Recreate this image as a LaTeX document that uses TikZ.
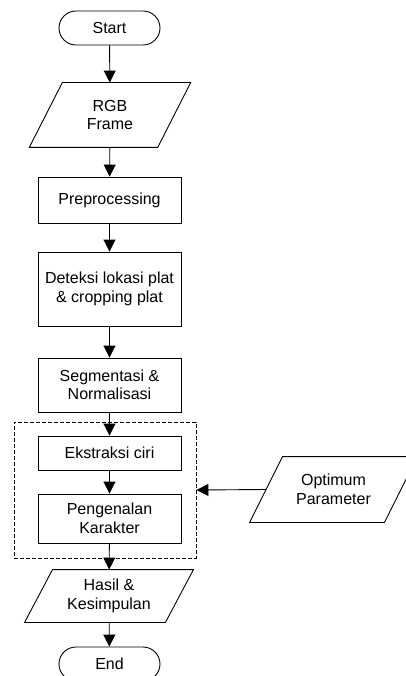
\documentclass[tikz,border=0pt]{standalone}
\usepackage{fontspec}
\setmainfont{Liberation Sans}
\usetikzlibrary{arrows.meta,calc}
\tikzset{
  base/.style={inner sep=0pt, align=center, font=\fontsize{16}{18.5}\selectfont, line width=0.9pt},
  procbox/.style={base, draw, rectangle, minimum width=143pt},
  termbox/.style={base, draw, rectangle, rounded corners=17pt, minimum width=101pt, minimum height=34pt},
  iobox/.style={base, rectangle},
  parashape/.style={line width=0.9pt},
  dashbox/.style={draw, line width=0.9pt, dash pattern=on 4pt off 2pt, inner sep=0pt, minimum width=182pt, minimum height=136pt},
  arrow/.style={line width=0.9pt, -{Triangle[length=12pt,width=12pt]}},
}
\begin{document}
\begin{tikzpicture}[x=1pt,y=-1pt]
\useasboundingbox (0,0) rectangle (406,676);
\node[termbox] (start) at (109.5,28) {Start};
\node[iobox, minimum width=127.5pt, minimum height=64pt] (rgb) at (110,115) {RGB\\Frame};
\draw[parashape] ($(rgb.south west)+(-16.5,0)$) -- ($(rgb.north west)+(16.5,0)$) -- ($(rgb.north east)+(16.5,0)$) -- ($(rgb.south east)+(-16.5,0)$) -- cycle;
\node[procbox, minimum height=46pt] (pre) at (109.5,200) {Preprocessing};
\node[procbox, minimum height=74pt] (det) at (109.5,289) {Deteksi lokasi plat\\\& cropping plat};
\node[procbox, minimum height=54pt] (seg) at (109.5,385) {Segmentasi \&\\Normalisasi};
\node[dashbox] (grp) at (105,490) {};
\node[procbox, minimum height=34pt] (eks) at (109.5,453) {Ekstraksi ciri};
\node[procbox, minimum height=49pt] (pen) at (109.5,518.5) {Pengenalan\\Karakter};
\node[iobox, minimum width=140pt, minimum height=52pt] (has) at (109,596) {Hasil \&\\Kesimpulan};
\draw[parashape] ($(has.south west)+(-14,0)$) -- ($(has.north west)+(14,0)$) -- ($(has.north east)+(14,0)$) -- ($(has.south east)+(-14,0)$) -- cycle;
\node[termbox] (end) at (109.5,664) {End};
\node[iobox, minimum width=134pt, minimum height=65pt] (opt) at (333.5,489.5) {Optimum\\Parameter};
\draw[parashape] ($(opt.south west)+(-16.5,0)$) -- ($(opt.north west)+(16.5,0)$) -- ($(opt.north east)+(16.5,0)$) -- ($(opt.south east)+(-16.5,0)$) -- cycle;
\draw[arrow] (start) -- (rgb);
\draw[arrow] (rgb) -- (pre);
\draw[arrow] (pre) -- (det);
\draw[arrow] (det) -- (seg);
\draw[arrow] (seg) -- (eks);
\draw[arrow] (eks) -- (pen);
\draw[arrow] (pen) -- (has);
\draw[arrow] (has) -- (end);
\draw[arrow] (opt.west) -- (grp.east);
\end{tikzpicture}
\end{document}
